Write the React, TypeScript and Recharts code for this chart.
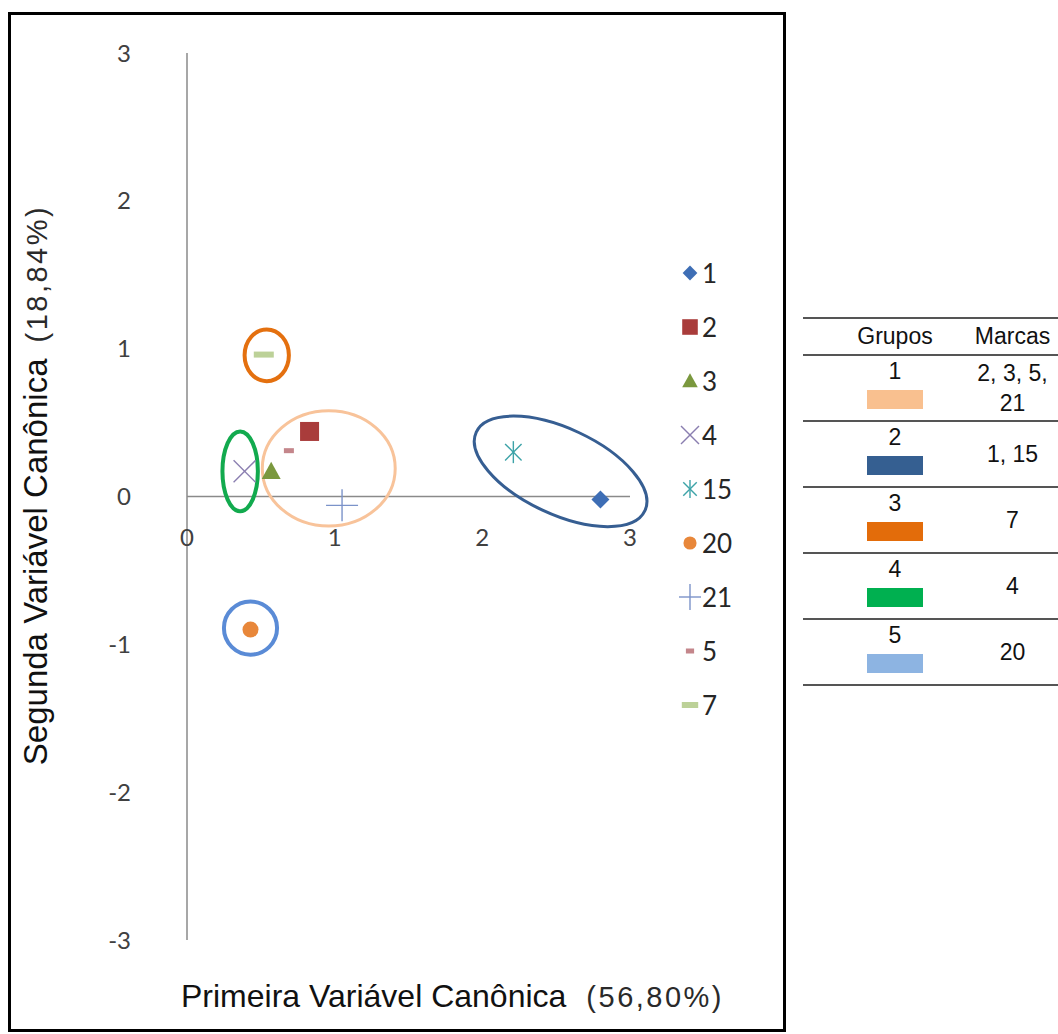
import React from "react";
import { ScatterChart, Scatter, XAxis, YAxis, ReferenceLine, Label } from "recharts";

// marcas (points)
const markNames = ["1", "2", "3", "4", "15", "20", "21", "5", "7"];
const markX = [2.8, 0.83, 0.57, 0.39, 2.21, 0.43, 1.05, 0.69, 0.52];
const markY = [-0.02, 0.44, 0.17, 0.17, 0.3, -0.9, -0.06, 0.31, 0.96];
const markShapes = ["diamond", "square", "triangle", "x", "asterisk", "circle", "plus", "dashShort", "dash"];
const markColors = ["#3E6EB5", "#A93C3B", "#7A983E", "#8A7EB0", "#3DA3A8", "#E8873A", "#7B93C9", "#C4868B", "#BCD198"];

// grupos (ellipses + table)
const groupNames = ["1", "2", "3", "4", "5"];
const groupMarks = [["2, 3, 5,", "21"], ["1, 15"], ["7"], ["4"], ["20"]];
const groupColors = ["#F9C08F", "#355F91", "#E36C0A", "#00B050", "#8DB4E2"];
const ellipseColors = ["#F8C39A", "#365E92", "#E4700F", "#12AA4E", "#5A8BD6"];
const ellipseX = [0.96, 2.53, 0.54, 0.36, 0.43];
const ellipseY = [0.19, 0.17, 0.955, 0.17, -0.89];
const ellipseRx = [0.45, 0.63, 0.15, 0.12, 0.18];
const ellipseRy = [0.39, 0.29, 0.175, 0.27, 0.18];
const ellipseAngle = [0, 25, 0, 0, 0];
const ellipseStroke = [3, 3, 4, 4, 4];

const xTicks = [0, 1, 2, 3];
const yTicks = [-3, -2, -1, 0, 1, 2, 3];

const W = 790;
const H = 1034;
const PLOT_LEFT = 187;
const PLOT_TOP = 53;
const PLOT_W = 443;
const PLOT_H = 887;
const X_MIN = 0, X_MAX = 3, Y_MIN = -3, Y_MAX = 3;
const PX_X = PLOT_W / (X_MAX - X_MIN);
const PX_Y = PLOT_H / (Y_MAX - Y_MIN);
const ZERO_Y = PLOT_TOP + (PLOT_H * Y_MAX) / (Y_MAX - Y_MIN);
const Y_AXIS_W = 100;
const X_AXIS_H = 30;

const ARIAL = "Arial, 'Liberation Sans', sans-serif";
const CAL = "Lato, Carlito, Calibri, sans-serif";

function Marker({ kind, color, cx, cy, s = 1 }: any) {
  switch (kind) {
    case "diamond": {
      const r = 9 * s;
      return <polygon points={`${cx},${cy - r} ${cx + r},${cy} ${cx},${cy + r} ${cx - r},${cy}`} fill={color} />;
    }
    case "square": {
      const r = 9.5 * s;
      return <rect x={cx - r} y={cy - r} width={2 * r} height={2 * r} fill={color} />;
    }
    case "triangle": {
      const r = 9.5 * s;
      return <polygon points={`${cx},${cy - r} ${cx + r},${cy + r * 0.8} ${cx - r},${cy + r * 0.8}`} fill={color} />;
    }
    case "x": {
      const r = 11 * s;
      return (
        <g stroke={color} strokeWidth={1.4}>
          <line x1={cx - r} y1={cy - r} x2={cx + r} y2={cy + r} />
          <line x1={cx - r} y1={cy + r} x2={cx + r} y2={cy - r} />
        </g>
      );
    }
    case "asterisk": {
      const r = 11 * s;
      const d = r * 0.75;
      return (
        <g stroke={color} strokeWidth={1.4}>
          <line x1={cx} y1={cy - r} x2={cx} y2={cy + r} />
          <line x1={cx - d} y1={cy - d} x2={cx + d} y2={cy + d} />
          <line x1={cx - d} y1={cy + d} x2={cx + d} y2={cy - d} />
        </g>
      );
    }
    case "circle":
      return <circle cx={cx} cy={cy} r={8 * s} fill={color} />;
    case "plus": {
      const r = 16 * s;
      return (
        <g stroke={color} strokeWidth={1.4}>
          <line x1={cx - r} y1={cy} x2={cx + r} y2={cy} />
          <line x1={cx} y1={cy - r} x2={cx} y2={cy + r} />
        </g>
      );
    }
    case "dashShort":
      return <rect x={cx - 5 * s} y={cy - 2.5} width={10 * s} height={5} fill={color} />;
    case "dash":
      return <rect x={cx - 10 * s} y={cy - 3} width={20 * s} height={6} fill={color} />;
    default:
      return null;
  }
}

const ellipseData = groupNames.map((g, i) => ({ x: ellipseX[i], y: ellipseY[i], idx: i }));

function EllipseShape(p: any) {
  const i = p.payload.idx;
  return (
    <ellipse
      cx={p.cx}
      cy={p.cy}
      rx={ellipseRx[i] * PX_X}
      ry={ellipseRy[i] * PX_Y}
      transform={`rotate(${ellipseAngle[i]} ${p.cx} ${p.cy})`}
      fill="none"
      stroke={ellipseColors[i]}
      strokeWidth={ellipseStroke[i]}
    />
  );
}

function XTick({ x, payload }: any) {
  return (
    <text x={x} y={ZERO_Y + 49} textAnchor="middle" fontFamily={CAL} fontSize={24} fill="#404040">
      {payload.value}
    </text>
  );
}

function XTitle() {
  return (
    <text x={181} y={1007} fontFamily={ARIAL} fontSize={32} fill="#111">
      Primeira Variável Canônica
      <tspan fontSize={29} dx={20} letterSpacing={2.5} fill="#2a2a2a">(56,80%)</tspan>
    </text>
  );
}

function YTitle() {
  return (
    <text transform="translate(47,485) rotate(-90)" textAnchor="middle" fontFamily={ARIAL} fontSize={33} fill="#111">
      Segunda Variável Canônica
      <tspan fontSize={29} dx={16} letterSpacing={2.5} fill="#2a2a2a">(18,84%)</tspan>
    </text>
  );
}

function MarkLegend() {
  return (
    <div style={{ position: "absolute", left: 679, top: 246, width: 90 }}>
      {markNames.map((n, i) => (
        <div key={n} style={{ height: 54, display: "flex", alignItems: "center" }}>
          <svg width={22} height={26} style={{ display: "block" }}>
            <Marker kind={markShapes[i]} color={markColors[i]} cx={11} cy={13} s={0.82} />
          </svg>
          <span style={{ fontFamily: CAL, fontSize: 26, color: "#262626", marginLeft: 1 }}>{n}</span>
        </div>
      ))}
    </div>
  );
}

function GroupTable() {
  const rule = "2px solid #555";
  return (
    <div style={{ position: "absolute", left: 803, top: 317, width: 255, fontFamily: ARIAL, fontSize: 23, color: "#111" }}>
      <div style={{ display: "flex", borderTop: rule, borderBottom: rule, height: 35, alignItems: "center" }}>
        <div style={{ width: 164, paddingLeft: 20, boxSizing: "border-box", textAlign: "center" }}>Grupos</div>
        <div style={{ width: 91, textAlign: "center" }}>Marcas</div>
      </div>
      {groupNames.map((g, i) => (
        <div key={g} style={{ display: "flex", borderBottom: rule, height: 64 }}>
          <div style={{ width: 164, paddingLeft: 20, boxSizing: "border-box", display: "flex", flexDirection: "column", alignItems: "center", paddingTop: 2 }}>
            <div style={{ lineHeight: "26px" }}>{g}</div>
            <div style={{ width: 56, height: 19, background: groupColors[i], marginTop: 6 }} />
          </div>
          <div style={{ width: 91, display: "flex", flexDirection: "column", justifyContent: "center", alignItems: "center" }}>
            {groupMarks[i].map((m) => (
              <div key={m} style={{ lineHeight: "30px" }}>{m}</div>
            ))}
          </div>
        </div>
      ))}
    </div>
  );
}

export default function App() {
  return (
    <div style={{ position: "absolute", left: 0, top: 0, width: 1058, height: 1034, background: "#fff" }}>
      <div style={{ position: "absolute", left: 8, top: 12, width: 778, height: 1020, border: "3px solid #000", boxSizing: "border-box" }} />
      <div style={{ position: "absolute", left: 0, top: 0 }}>
        <ScatterChart
          width={W}
          height={H}
          margin={{ top: PLOT_TOP, left: PLOT_LEFT - Y_AXIS_W, right: W - PLOT_LEFT - PLOT_W, bottom: H - PLOT_TOP - PLOT_H - X_AXIS_H }}
        >
          <XAxis
            type="number"
            dataKey="x"
            domain={[X_MIN, X_MAX]}
            ticks={xTicks}
            height={X_AXIS_H}
            axisLine={false}
            tickLine={false}
            tick={<XTick />}
          >
            <Label content={<XTitle />} />
          </XAxis>
          <YAxis
            type="number"
            dataKey="y"
            domain={[Y_MIN, Y_MAX]}
            ticks={yTicks}
            width={Y_AXIS_W}
            axisLine={{ stroke: "#8a8a8a", strokeWidth: 1.5 }}
            tickLine={false}
            tickMargin={50}
            tick={{ fontFamily: CAL, fontSize: 24, fill: "#404040" }}
          >
            <Label content={<YTitle />} />
          </YAxis>
          <ReferenceLine y={0} stroke="#8a8a8a" strokeWidth={1.5} />
          <Scatter data={ellipseData} shape={EllipseShape} isAnimationActive={false} />
          {markNames.map((n, i) => (
            <Scatter
              key={n}
              name={n}
              data={[{ x: markX[i], y: markY[i] }]}
              isAnimationActive={false}
              shape={(p: any) => <Marker kind={markShapes[i]} color={markColors[i]} cx={p.cx} cy={p.cy} />}
            />
          ))}
        </ScatterChart>
      </div>
      <MarkLegend />
      <GroupTable />
    </div>
  );
}
